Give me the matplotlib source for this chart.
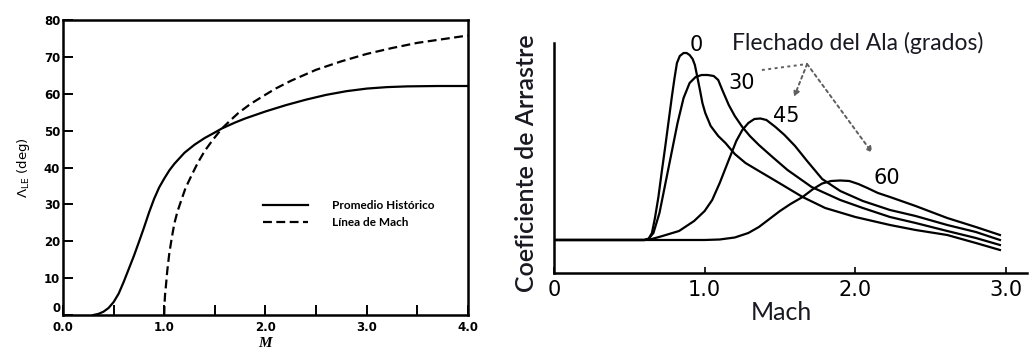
import numpy as np
import matplotlib.pyplot as plt
from matplotlib.lines import Line2D

# --- left panel: leading-edge sweep vs Mach ---
M_hist = [0.30, 0.35, 0.40, 0.45, 0.50, 0.55, 0.60, 0.65, 0.70, 0.75, 0.80, 0.85, 0.90,
          0.95, 1.00, 1.05, 1.10, 1.20, 1.30, 1.40, 1.50, 1.57, 1.70, 1.80, 2.00, 2.20,
          2.40, 2.60, 2.80, 3.00, 3.20, 3.40, 3.70, 4.00]
sweep_hist = [0, 0.3, 0.9, 1.9, 3.5, 5.8, 9, 12.5, 16, 19.8, 23.7, 27.8, 31.5,
              34.6, 37, 39.2, 41, 44, 46.2, 48, 49.5, 50.6, 52.2, 53.3, 55.2, 56.9,
              58.4, 59.7, 60.7, 61.4, 61.8, 62, 62.1, 62.1]

M_mach = [1.000, 1.003, 1.008, 1.017, 1.03, 1.05, 1.075, 1.10, 1.13, 1.167, 1.21, 1.267,
          1.33, 1.40, 1.48, 1.567, 1.65, 1.733, 1.85, 1.967, 2.10, 2.25, 2.50, 2.75,
          3.00, 3.25, 3.50, 3.75, 4.00]
sweep_mach = [0, 3, 5.5, 8, 12, 16.7, 21, 24.8, 28, 31, 34.4, 37.7,
              41.2, 44.5, 47.5, 50.5, 52.7, 54.8, 57.2, 59.2, 61.4, 63.5, 66.5, 68.8,
              70.8, 72.4, 73.8, 74.8, 75.8]

# --- right panel: drag coefficient vs Mach for several wing sweeps ---
M_s0 = [0, 0.56, 0.60, 0.627, 0.65, 0.67, 0.693, 0.715, 0.738, 0.76, 0.782, 0.80, 0.816,
        0.835, 0.86, 0.88, 0.90, 0.92, 0.935, 0.95, 0.97, 0.985, 1.004, 1.04, 1.09,
        1.138, 1.20, 1.271, 1.36, 1.45, 1.55, 1.65, 1.80, 2.00, 2.23, 2.40, 2.61, 2.80, 2.96]
cd_s0 = [0.33, 0.33, 0.33, 0.34, 0.40, 0.55, 0.76, 1.01, 1.26, 1.51, 1.76, 1.95, 2.10,
         2.17, 2.20, 2.20, 2.18, 2.14, 2.08, 1.97, 1.82, 1.70, 1.60, 1.47, 1.37,
         1.30, 1.19, 1.10, 1.02, 0.94, 0.85, 0.76, 0.65, 0.56, 0.48, 0.43, 0.38, 0.30, 0.23]

M_s30 = [0, 0.60, 0.63, 0.66, 0.70, 0.74, 0.78, 0.82, 0.86, 0.90, 0.94, 0.98, 1.02,
         1.06, 1.09, 1.12, 1.16, 1.20, 1.25, 1.30, 1.36, 1.45, 1.55, 1.71, 1.90, 2.05,
         2.23, 2.40, 2.61, 2.80, 2.96]
cd_s30 = [0.33, 0.33, 0.345, 0.40, 0.60, 0.90, 1.20, 1.50, 1.75, 1.90, 1.96, 1.98, 1.98,
          1.97, 1.93, 1.82, 1.68, 1.57, 1.46, 1.37, 1.28, 1.16, 1.03, 0.86, 0.73, 0.65,
          0.56, 0.50, 0.42, 0.35, 0.28]

M_s45 = [0, 0.60, 0.65, 0.72, 0.83, 0.93, 1.00, 1.05, 1.10, 1.16, 1.21, 1.25, 1.29,
         1.33, 1.37, 1.41, 1.47, 1.53, 1.60, 1.68, 1.78, 1.90, 2.05, 2.23, 2.40, 2.61,
         2.80, 2.96]
cd_s45 = [0.33, 0.33, 0.34, 0.37, 0.42, 0.52, 0.62, 0.73, 0.90, 1.13, 1.32, 1.43, 1.50,
          1.54, 1.545, 1.53, 1.46, 1.38, 1.27, 1.12, 0.94, 0.82, 0.72, 0.63, 0.57, 0.48,
          0.41, 0.33]

M_s60 = [0, 1.00, 1.10, 1.20, 1.29, 1.36, 1.43, 1.50, 1.57, 1.65, 1.72, 1.78, 1.84,
         1.90, 1.96, 2.02, 2.08, 2.15, 2.23, 2.40, 2.61, 2.80, 2.96]
cd_s60 = [0.33, 0.33, 0.335, 0.355, 0.40, 0.46, 0.54, 0.62, 0.69, 0.76, 0.84, 0.895, 0.92,
          0.925, 0.92, 0.89, 0.85, 0.80, 0.76, 0.67, 0.55, 0.46, 0.38]

sweep_names = ['0', '30', '45', '60']
label_pos = [(0.947, 2.28), (1.247, 1.90), (1.54, 1.57), (2.207, 0.95)]

txt = '#191922'

fig = plt.figure(figsize=(10.29, 3.49), dpi=100)

# left plot
ax1 = fig.add_axes([0.0612, 0.0974, 0.3936, 0.8453])
ax1.plot(M_hist, sweep_hist, color='black', lw=1.6)
ax1.plot(M_mach, sweep_mach, color='black', lw=1.6, ls=(0, (4, 2)))
ax1.set_xlim(0, 4)
ax1.set_ylim(0, 80)
ax1.set_xticks([0, 1, 2, 3, 4])
ax1.set_xticklabels(['0.0', '1.0', '2.0', '3.0', '4.0'])
ax1.set_xticks(np.arange(0.5, 4, 1.0), minor=True)
ax1.set_yticks(range(0, 81, 10))
ax1.tick_params(which='both', direction='in', length=7, width=1.4, labelsize=8.5, pad=2)
ax1.tick_params(axis='x', pad=4)
for lab in ax1.get_xticklabels() + ax1.get_yticklabels():
    lab.set_fontweight('bold')
# the bottom "0" sits on the axis line, above the "0.0"
ax1.get_yticklabels()[0].set_verticalalignment('bottom')
for s in ax1.spines.values():
    s.set_linewidth(1.8)

handles = [Line2D([], [], color='black', lw=1.6),
           Line2D([], [], color='black', lw=1.6, ls=(0, (4, 2)))]
ax1.legend(handles, ['Promedio Histórico', 'Línea de Mach'], loc='center left',
           bbox_to_anchor=(0.494, 0.342), frameon=False, borderpad=0, borderaxespad=0,
           handlelength=3.8, handletextpad=2.0, labelspacing=0.45,
           prop={'family': 'Lato', 'weight': 'bold', 'size': 8.5})

fig.text(0.0224, 0.519, r'$\Lambda_{\rm LE}$ (deg)', rotation=90, ha='center', va='center',
         fontsize=9.5)
fig.text(0.2575, 0.017, 'M', ha='center', va='center', fontsize=11, family='Liberation Serif',
         style='italic', weight='bold')

# right plot
ax2 = fig.add_axes([0.5384, 0.2178, 0.4597, 0.659])
for m, cd in [(M_s0, cd_s0), (M_s30, cd_s30), (M_s45, cd_s45), (M_s60, cd_s60)]:
    ax2.plot(m, cd, color='black', lw=1.6, solid_joinstyle='round')
ax2.set_xlim(0, 3.14)
ax2.set_ylim(0, 2.30)
ax2.spines['top'].set_visible(False)
ax2.spines['right'].set_visible(False)
ax2.spines['left'].set_linewidth(1.8)
ax2.spines['bottom'].set_linewidth(1.8)
ax2.set_yticks([])
ax2.set_xticks([0, 1, 2, 3])
ax2.set_xticklabels(['0', '1.0', '2.0', '3.0'])
ax2.tick_params(axis='x', direction='in', length=4, width=1.2, labelsize=15, pad=5)

for name, (xm, yc) in zip(sweep_names, label_pos):
    ax2.text(xm, yc, name, ha='center', va='center', fontsize=15, color='black')

ax2.text(1.18, 2.30, 'Flechado del Ala (grados)', ha='left', va='center',
         fontsize=16.5, family='Lato', color=txt)

# dotted leader lines from the title to the curve labels
grey = '#5e5e5e'
apex = (1.68, 2.09)
ax2.plot([1.38, apex[0]], [2.03, apex[1]], color=grey, lw=1.4, ls=(0, (1.5, 1.8)), clip_on=False)
for end in [(1.593, 1.76), (2.113, 1.20)]:
    ax2.annotate('', xy=end, xytext=apex,
                 arrowprops=dict(arrowstyle='-|>', color=grey, lw=1.4, ls=(0, (1.5, 1.8)),
                                 mutation_scale=8, shrinkA=0, shrinkB=0))

fig.text(527 / 1029, 1 - 163 / 349, 'Coeficiente de Arrastre', rotation=90, ha='center',
         va='center', fontsize=18, family='Lato', weight='semibold', color=txt)
fig.text(781 / 1029, 1 - 313 / 349, 'Mach', ha='center', va='center', fontsize=18,
         family='Lato', color=txt)

fig.savefig('out.png', dpi=100)
